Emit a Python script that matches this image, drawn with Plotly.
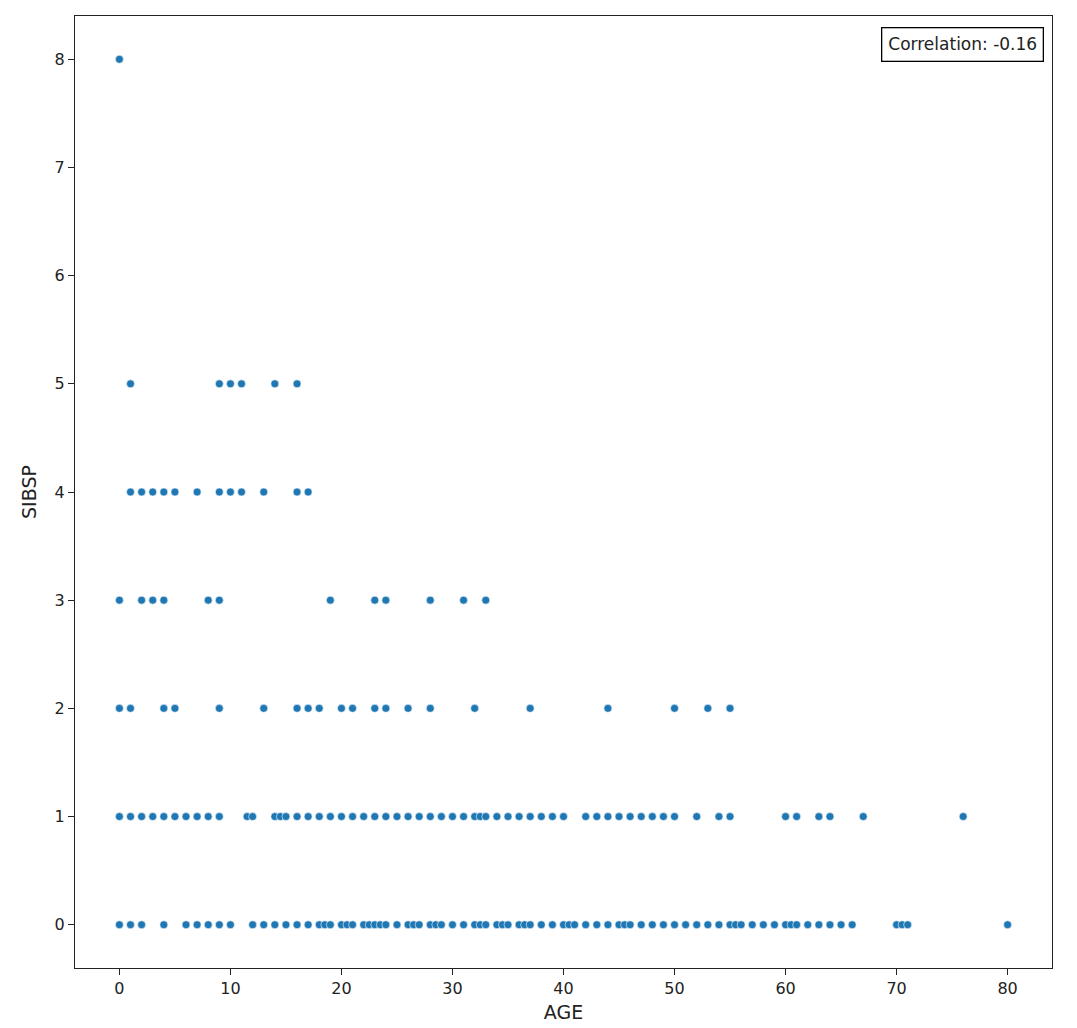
import plotly.graph_objs as go

# ages, one list per SIBSP level
age_sib0 = [0, 1, 2, 4, 6, 7, 8, 9, 10, 12, 13, 14, 15, 16, 17, 18, 18.5, 19, 20, 20.5,
            21, 22, 22.5, 23, 23.5, 24, 25, 26, 26.5, 27, 28, 28.5, 29, 30, 31, 32, 32.5,
            33, 34, 34.5, 35, 36, 36.5, 37, 38, 39, 40, 40.5, 41, 42, 43, 44, 45, 45.5,
            46, 47, 48, 49, 50, 51, 52, 53, 54, 55, 55.5, 56, 57, 58, 59, 60, 60.5, 61,
            62, 63, 64, 65, 66, 70, 70.5, 71, 80]
age_sib1 = [0, 1, 2, 3, 4, 5, 6, 7, 8, 9, 11.5, 12, 14, 14.5, 15, 16, 17, 18, 19, 20, 21,
            22, 23, 24, 25, 26, 27, 28, 29, 30, 31, 32, 32.5, 33, 34, 35, 36, 37, 38, 39,
            40, 42, 43, 44, 45, 46, 47, 48, 49, 50, 52, 54, 55, 60, 61, 63, 64, 67, 76]
age_sib2 = [0, 1, 4, 5, 9, 13, 16, 17, 18, 20, 21, 23, 24, 26, 28, 32, 37, 44, 50, 53, 55]
age_sib3 = [0, 2, 3, 4, 8, 9, 19, 23, 24, 28, 31, 33]
age_sib4 = [1, 2, 3, 4, 5, 7, 9, 10, 11, 13, 16, 17]
age_sib5 = [1, 9, 10, 11, 14, 16]
age_sib8 = [0]

groups = [(0, age_sib0), (1, age_sib1), (2, age_sib2), (3, age_sib3),
          (4, age_sib4), (5, age_sib5), (8, age_sib8)]

x_vals = []
y_vals = []
for sib, ages in groups:
    for a in ages:
        x_vals.append(a)
        y_vals.append(sib)

corr_text = "Correlation: -0.16"

fig = go.Figure([
    go.Scatter(
        x = x_vals,
        y = y_vals,
        mode = 'markers',
        marker = dict(color = '#1f77b4', size = 8,
                      line = dict(color = 'white', width = 0.6)),
        showlegend = False,
    )
])

axis_style = dict(
    showgrid = False,
    zeroline = False,
    showline = True,
    linecolor = '#222222',
    linewidth = 1.3,
    mirror = True,
    ticks = 'outside',
    ticklen = 6,
    tickwidth = 1.3,
    tickcolor = '#222222',
    tickfont = dict(family = 'DejaVu Sans', size = 16, color = '#222222'),
)

fig.update_xaxes(range = [-4, 84], tickvals = list(range(0, 81, 10)),
                 title = dict(text = 'AGE', font = dict(family = 'DejaVu Sans', size = 19, color = '#222222'),
                              standoff = 8),
                 **axis_style)
fig.update_yaxes(range = [-0.4, 8.4], tickvals = list(range(0, 9)),
                 title = dict(text = 'SIBSP', font = dict(family = 'DejaVu Sans', size = 19, color = '#222222'),
                              standoff = 12),
                 **axis_style)

fig.add_annotation(
    text = corr_text,
    xref = 'paper', yref = 'paper',
    x = 0.9915, y = 0.988,
    xanchor = 'right', yanchor = 'top',
    showarrow = False,
    font = dict(family = 'DejaVu Sans', size = 17, color = '#222222'),
    bordercolor = 'black', borderwidth = 1.3, borderpad = 6,
    bgcolor = 'white',
)

fig.update_layout(
    width = 1077,
    height = 1028,
    margin = dict(l = 67, r = 33, t = 8, b = 68),
    paper_bgcolor = 'white',
    plot_bgcolor = 'white',
)

fig.write_html("out.html")
